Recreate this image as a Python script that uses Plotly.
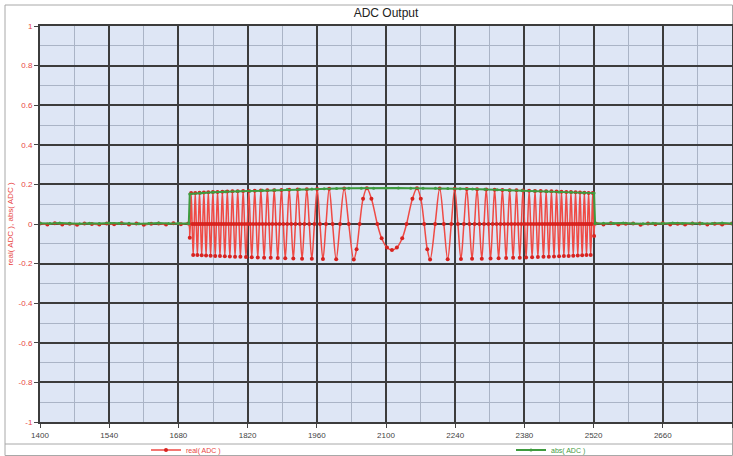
import plotly.graph_objects as go

# ---------------- data ----------------
x_tick_vals = [1400, 1540, 1680, 1820, 1960, 2100, 2240, 2380, 2520, 2660, 2800]
x_tick_text = ["1400", "1540", "1680", "1820", "1960", "2100", "2240", "2380", "2520", "2660", "2800"]
y_tick_vals = [1, 0.8, 0.6, 0.4, 0.2, 0, -0.2, -0.4, -0.6, -0.8, -1]
y_tick_text = ["1", "0.8", "0.6", "0.4", "0.2", "0", "-0.2", "-0.4", "-0.6", "-0.8", "-1"]

# real( ADC ) : quiet lead-in
real_x_pre = [1400, 1415, 1430, 1445, 1460, 1475, 1490, 1505, 1520, 1535, 1550, 1565, 1580,
              1595, 1610, 1625, 1640, 1655, 1670, 1685, 1700]
real_y_pre = [0.002, -0.003, 0.004, -0.002, 0.001, -0.004, 0.003, 0.0, -0.003, 0.002, -0.001,
              0.004, -0.002, 0.003, -0.004, 0.001, 0.002, -0.003, 0.004, -0.001, 0.002]

# real( ADC ) : chirp burst (peaks, troughs and crossings)
real_x_burst = [
    1703.0, 1705.7, 1707.8, 1709.9, 1712.0, 1714.1, 1716.2, 1718.4, 1720.5, 1722.7, 1724.9,
    1727.1, 1729.3, 1731.5, 1733.7, 1736.0, 1738.2, 1740.5, 1742.8, 1745.1, 1747.4, 1749.8,
    1752.1, 1754.5, 1756.8, 1759.2, 1761.6, 1764.1, 1766.5, 1769.0, 1771.4, 1773.9, 1776.4,
    1779.0, 1781.5, 1784.1, 1786.7, 1789.3, 1791.9, 1794.6, 1797.3, 1800.0, 1802.7, 1805.4,
    1808.2, 1811.0, 1813.8, 1816.7, 1819.6, 1822.5, 1825.4, 1828.4, 1831.4, 1834.4, 1837.5,
    1840.6, 1843.7, 1846.9, 1850.1, 1853.4, 1856.7, 1860.0, 1863.4, 1866.8, 1870.3, 1873.8,
    1877.4, 1881.0, 1884.7, 1888.5, 1892.3, 1896.2, 1900.2, 1904.2, 1908.3, 1912.5, 1916.8,
    1921.2, 1925.7, 1930.2, 1935.0, 1939.8, 1944.8, 1949.9, 1955.2, 1960.7, 1966.4, 1972.4,
    1978.6, 1985.1, 1991.9, 1999.2, 2007.0, 2015.4, 2024.6, 2034.8, 2040.5, 2046.7, 2053.6,
    2061.3, 2070.5, 2082.4, 2091.2, 2102.0, 2112.0,
    2122.0, 2132.8, 2141.6, 2153.5, 2162.7, 2170.4, 2177.3, 2183.5, 2189.2, 2199.4, 2208.6,
    2217.0, 2224.8, 2232.1, 2238.9, 2245.4, 2251.6, 2257.6, 2263.3, 2268.8, 2274.1, 2279.2,
    2284.2, 2289.0, 2293.8, 2298.3, 2302.8, 2307.2, 2311.5, 2315.7, 2319.8, 2323.8, 2327.8,
    2331.7, 2335.5, 2339.3, 2343.0, 2346.6, 2350.2, 2353.7, 2357.2, 2360.6, 2364.0, 2367.3,
    2370.6, 2373.9, 2377.1, 2380.3, 2383.4, 2386.5, 2389.6, 2392.6, 2395.6, 2398.6, 2401.5,
    2404.4, 2407.3, 2410.2, 2413.0, 2415.8, 2418.6, 2421.3, 2424.0, 2426.7, 2429.4, 2432.1,
    2434.7, 2437.3, 2439.9, 2442.5, 2445.0, 2447.6, 2450.1, 2452.6, 2455.0, 2457.5, 2459.9,
    2462.4, 2464.8, 2467.2, 2469.5, 2471.9, 2474.2, 2476.6, 2478.9, 2481.2, 2483.5, 2485.8,
    2488.0, 2490.3, 2492.5, 2494.7, 2496.9, 2499.1, 2501.3, 2503.5, 2505.6, 2507.8, 2509.9,
    2512.0, 2514.1, 2516.2, 2518.3, 2521.0]
real_y_burst = [
    -0.07, 0.156, 0, -0.156, 0, 0.157, 0, -0.157, 0, 0.158, 0,
    -0.158, 0, 0.159, 0, -0.159, 0, 0.160, 0, -0.160, 0, 0.161,
    0, -0.161, 0, 0.162, 0, -0.162, 0, 0.163, 0, -0.163, 0,
    0.164, 0, -0.164, 0, 0.165, 0, -0.165, 0, 0.166, 0, -0.166,
    0, 0.167, 0, -0.167, 0, 0.167, 0, -0.168, 0, 0.168, 0,
    -0.169, 0, 0.169, 0, -0.170, 0, 0.170, 0, -0.171, 0, 0.171,
    0, -0.172, 0, 0.172, 0, -0.173, 0, 0.173, 0, -0.174, 0,
    0.174, 0, -0.175, 0, 0.175, 0, -0.176, 0, 0.177, 0, -0.177,
    0, 0.178, 0, -0.178, 0, 0.179, 0, -0.179, -0.127, 0, 0.127,
    0.180, 0.128, 0, -0.072, -0.119, -0.131,
    -0.119, -0.072, 0, 0.128, 0.180, 0.127, 0, -0.127, -0.179, 0, 0.179,
    0, -0.178, 0, 0.178, 0, -0.177, 0, 0.177, 0, -0.176, 0,
    0.175, 0, -0.175, 0, 0.174, 0, -0.174, 0, 0.173, 0, -0.173,
    0, 0.172, 0, -0.172, 0, 0.171, 0, -0.171, 0, 0.170, 0,
    -0.170, 0, 0.169, 0, -0.169, 0, 0.168, 0, -0.168, 0, 0.167,
    0, -0.167, 0, 0.167, 0, -0.166, 0, 0.166, 0, -0.165, 0,
    0.165, 0, -0.164, 0, 0.164, 0, -0.163, 0, 0.163, 0, -0.162,
    0, 0.162, 0, -0.161, 0, 0.161, 0, -0.160, 0, 0.160, 0,
    -0.159, 0, 0.159, 0, -0.158, 0, 0.158, 0, -0.157, 0, 0.157,
    0, -0.156, 0, 0.156, -0.06]

# real( ADC ) : quiet tail
real_x_post = [2524, 2540, 2555, 2570, 2585, 2600, 2615, 2630, 2645, 2660, 2675, 2690, 2705,
               2720, 2735, 2750, 2765, 2780, 2800]
real_y_post = [0.003, -0.002, 0.004, -0.003, 0.001, 0.003, -0.004, 0.002, -0.001, 0.004, -0.002,
               0.001, -0.003, 0.002, 0.003, -0.002, 0.001, -0.003, 0.002]

# abs( ADC )
abs_x = [1400, 1420, 1440, 1460, 1480, 1500, 1520, 1540, 1560, 1580, 1600, 1620, 1640, 1660,
         1680, 1701,
         1703, 1725, 1750, 1775, 1800, 1825, 1850, 1875, 1900, 1925, 1950, 1975, 2000, 2025,
         2050, 2075, 2100, 2125, 2150, 2175, 2200, 2225, 2250, 2275, 2300, 2325, 2350, 2375,
         2400, 2425, 2450, 2475, 2500, 2521,
         2523, 2540, 2560, 2580, 2600, 2620, 2640, 2660, 2680, 2700, 2720, 2740, 2760, 2780, 2800]
abs_y = [0.004, 0.002, 0.005, 0.003, 0.001, 0.004, 0.002, 0.005, 0.003, 0.004, 0.001, 0.003,
         0.005, 0.002, 0.004, 0.003,
         0.152, 0.157, 0.160, 0.163, 0.165, 0.167, 0.170, 0.172, 0.174, 0.175, 0.177, 0.178,
         0.179, 0.180, 0.181, 0.181, 0.182, 0.182, 0.181, 0.181, 0.180, 0.179, 0.178, 0.177,
         0.175, 0.173, 0.171, 0.169, 0.167, 0.164, 0.162, 0.160, 0.158, 0.156,
         0.003, 0.004, 0.002, 0.005, 0.003, 0.001, 0.004, 0.002, 0.005, 0.003, 0.004, 0.002,
         0.003, 0.005, 0.002]

real_x = real_x_pre + real_x_burst + real_x_post
real_y = real_y_pre + real_y_burst + real_y_post

RED_LINE = "#ef4a44"
RED_DOT = "#d8231f"
RED_TXT = "#e8453f"
GREEN = "#3f9b3f"

# ---------------- figure ----------------
fig = go.Figure()
fig.add_trace(go.Scatter(
    x=real_x, y=real_y, mode="lines+markers",
    name="<span style='color:#e8453f'>real( ADC )</span>",
    line=dict(color=RED_LINE, width=1.5, shape="spline", smoothing=1),
    marker=dict(size=4, color=RED_DOT),
    legend="legend",
))
fig.add_trace(go.Scatter(
    x=abs_x, y=abs_y, mode="lines+markers",
    name="<span style='color:#3f9b3f'>abs( ADC )</span>",
    line=dict(color=GREEN, width=2),
    marker=dict(size=3, color=GREEN),
    legend="legend2",
))

L, R, T, B = 40, 1, 26, 34
W, H = 733, 456
pw, ph = W - L - R, H - T - B

def px_x(px):
    return (px - L) / pw

def px_y(py):
    return (H - B - py) / ph

legend_common = dict(orientation="h", xanchor="left", y=px_y(450), yanchor="middle",
                     bgcolor="rgba(0,0,0,0)", font=dict(size=7), borderwidth=0)

fig.update_layout(
    width=W, height=H,
    margin=dict(l=L, r=R, t=T, b=B, autoexpand=False),
    paper_bgcolor="white",
    plot_bgcolor="#dee6f5",
    font=dict(family="Liberation Sans, Arial, sans-serif", size=8, color="#444"),
    title=dict(text="ADC Output", x=0.5, xref="paper", y=1 - 13 / H, yref="container",
               yanchor="middle", xanchor="center",
               font=dict(size=12, color="#222", family="Liberation Sans, Arial, sans-serif")),
    showlegend=True,
    legend=dict(x=px_x(146), **legend_common),
    legend2=dict(x=px_x(511), **legend_common),
    shapes=[
        dict(type="rect", xref="paper", yref="paper",
             x0=px_x(5), x1=px_x(732.5), y0=px_y(455.5), y1=px_y(5),
             line=dict(color="#a8a8a8", width=1), fillcolor="rgba(0,0,0,0)", layer="below"),
        dict(type="line", xref="paper", yref="paper",
             x0=px_x(5), x1=px_x(732.5), y0=px_y(444), y1=px_y(444),
             line=dict(color="#a8a8a8", width=1)),
    ],
)

fig.update_xaxes(
    range=[1400, 2800],
    tickmode="array", tickvals=x_tick_vals, ticktext=x_tick_text,
    tickfont=dict(size=8, color="#444"),
    showgrid=True, gridcolor="#3c3c3c", gridwidth=2,
    minor=dict(tickmode="linear", tick0=1400, dtick=70, showgrid=True,
               gridcolor="#aab4c6", gridwidth=1),
    ticks="outside", ticklen=4, tickcolor="#444", tickwidth=1,
    showline=True, linecolor="#3c3c3c", linewidth=2, mirror=True,
    zeroline=False,
)
fig.update_yaxes(
    range=[-1, 1],
    tickmode="array", tickvals=y_tick_vals, ticktext=y_tick_text,
    tickfont=dict(size=8, color=RED_TXT),
    showgrid=True, gridcolor="#3c3c3c", gridwidth=2,
    minor=dict(tickmode="linear", tick0=-1, dtick=0.1, showgrid=True,
               gridcolor="#aab4c6", gridwidth=1),
    ticks="outside", ticklen=4, tickcolor="#444", tickwidth=1,
    showline=True, linecolor="#3c3c3c", linewidth=2, mirror=True,
    zeroline=False,
    title=dict(text="real( ADC ), abs( ADC )", font=dict(size=8, color=RED_TXT), standoff=4),
)

fig.write_html("out.html", config={"displayModeBar": False},
               post_script="document.body.style.margin='0px';")
